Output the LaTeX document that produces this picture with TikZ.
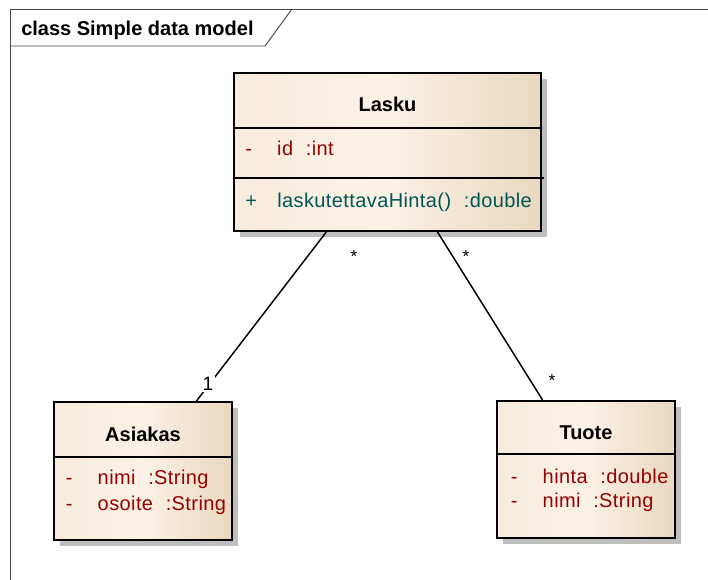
\documentclass[tikz,border=0pt]{standalone}
\usepackage{fontspec}
\setmainfont{Liberation Sans}
\newfontfamily\umlfont[LetterSpace=2]{Liberation Sans}
\usetikzlibrary{shadows}
\definecolor{clsL}{RGB}{247,236,221}
\definecolor{clsM}{RGB}{251,242,230}
\definecolor{clsR}{RGB}{233,216,190}
\definecolor{shadowgray}{RGB}{190,190,190}
\definecolor{attrred}{RGB}{153,0,0}
\definecolor{methteal}{RGB}{0,85,85}
\definecolor{framegray}{RGB}{70,70,70}
\newcommand{\gap}{\hspace{9.5pt}}
\newcommand{\row}[2]{\makebox[24pt][l]{#1}#2}

\begin{document}
\begin{tikzpicture}[x=0.75pt, y=-0.75pt,
  frame/.style={draw=framegray, line width=0.7pt},
  title/.style={font=\fontsize{15}{18}\selectfont\bfseries, anchor=base west, inner sep=0pt},
  cls/.style={draw, line width=1.5pt, inner sep=0pt, left color=clsL, right color=clsR, middle color=clsM,
    drop shadow={shadow xshift=4.5pt, shadow yshift=-4.5pt, fill=shadowgray, opacity=1}},
  clsname/.style={font=\fontsize{15}{18}\selectfont\bfseries, anchor=base, inner sep=0pt},
  attr/.style={font=\umlfont\fontsize{15}{18}\selectfont, text=attrred, anchor=base west, inner sep=0pt},
  meth/.style={attr, text=methteal},
  div/.style={line width=1.5pt},
  assoc/.style={line width=1.1pt},
  mult/.style={font=\fontsize{13}{15}\selectfont, anchor=base, inner sep=0pt}]
\useasboundingbox (0,0) rectangle (708,580);

% diagram frame and its tab
\draw[frame] (708,9) -- (10,9) -- (10,580);
\draw[frame] (10,46) -- (265,46) -- (292,9);
\node[title] (title) at (21,36) {class Simple data model};

% classes
\node[cls, minimum width=230.25pt, minimum height=118.5pt] (lasku) at (387.5,152) {};
\node[clsname] (laskuname) at (387.5,112) {Lasku};
\draw[div] (234,128) -- (541,128);
\node[attr] (laskuid) at (245,156) {\row{-}{id\gap:int}};
\draw[div] (234,178) -- (544,178);
\node[meth] (laskuhinta) at (245,208) {\row{+}{laskutettavaHinta()\gap:double}};

\node[cls, minimum width=133.5pt, minimum height=103.5pt] (asiakas) at (143,471) {};
\node[clsname] (asiakasname) at (143,442) {Asiakas};
\draw[div] (54,457) -- (232,457);
\node[attr] (asiakasnimi) at (65.5,485) {\row{-}{nimi\gap:String}};
\node[attr] (asiakasosoite) at (65.5,511) {\row{-}{osoite\gap:String}};

\node[cls, minimum width=133.5pt, minimum height=102.75pt] (tuote) at (586,469.5) {};
\node[clsname] (tuotename) at (586,440) {Tuote};
\draw[div] (497,454) -- (675,454);
\node[attr] (tuotehinta) at (510.5,484) {\row{-}{hinta\gap:double}};
\node[attr] (tuotenimi) at (510.5,508) {\row{-}{nimi\gap:String}};

% associations
\draw[assoc] (lasku) -- (asiakas);
\draw[assoc] (lasku) -- (tuote);
\node[mult] (laskuasiakas) at (354,263) {*};
\node[mult, font=\fontsize{14.5}{17}\selectfont, fill=white, inner sep=1pt] (asiakaslasku) at (208,391) {1};
\node[mult] (laskutuote) at (466,263) {*};
\node[mult] (tuotelasku) at (552,387) {*};
\end{tikzpicture}
\end{document}
